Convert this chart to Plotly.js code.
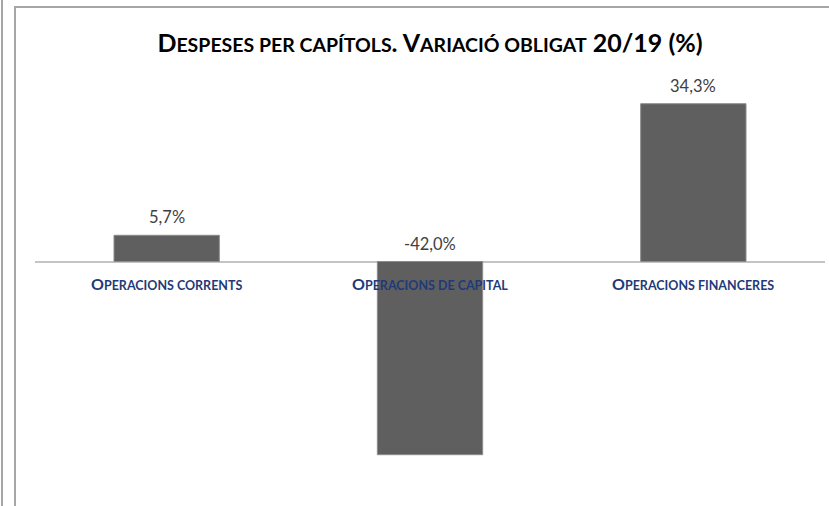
<!DOCTYPE html>
<html>
<head>
<meta charset="utf-8">
<script src="https://cdn.plot.ly/plotly-3.0.1.min.js"></script>
<style>
  html, body { margin: 0; padding: 0; background: #ffffff; }
  #wrap { position: relative; width: 829px; height: 506px; overflow: hidden; }
  #chart { position: absolute; left: 0; top: 0; width: 829px; height: 506px; }
  .frame { position: absolute; background: #a6a6a6; }
</style>
</head>
<body>
<div id="wrap">
  <div id="chart"></div>
  <div class="frame" style="left:1px; top:0; width:2px; height:506px;"></div>
  <div class="frame" style="left:14px; top:7px; width:2px; height:499px;"></div>
  <div class="frame" style="left:14px; top:6px; width:815px; height:2px;"></div>
</div>
<script>
// Data
var categoryFirst = ['O', 'O', 'O'];
var categoryRest = ['PERACIONS CORRENTS', 'PERACIONS DE CAPITAL', 'PERACIONS FINANCERES'];
var categories = ['Operacions corrents', 'Operacions de capital', 'Operacions financeres'];
var values = [5.7, -42.0, 34.3];

function fmt(v) { return v.toFixed(1).replace('.', ',') + '%'; }

var trace = {
  type: 'bar',
  x: categories,
  y: values,
  marker: { color: '#5f5f5f', line: { color: '#8c8c8c', width: 1 } },
  hoverinfo: 'none'
};

var annotations = [];
for (var i = 0; i < categories.length; i++) {
  annotations.push({
    x: categories[i], y: Math.max(values[i], 0), xref: 'x', yref: 'y',
    text: fmt(values[i]), showarrow: false, yanchor: 'bottom', yshift: 6,
    font: { family: 'Lato, "Open Sans", sans-serif', size: 16.5, color: '#404040' }
  });
  annotations.push({
    x: categories[i], y: 0, xref: 'x', yref: 'y',
    text: '<b>' + categoryFirst[i] + '<span style="font-size:12.5px">' + categoryRest[i] + '</span></b>',
    showarrow: false, yanchor: 'middle', yshift: -22,
    font: { family: 'Lato, "Open Sans", sans-serif', size: 16, color: '#1f3a78' }
  });
}

var layout = {
  width: 829, height: 506,
  margin: { l: 35, r: 4, t: 80, b: 6 },
  paper_bgcolor: 'rgba(0,0,0,0)',
  plot_bgcolor: 'rgba(0,0,0,0)',
  bargap: 0.6,
  showlegend: false,
  title: {
    text: '<b>D<span style="font-size:19.5px">ESPESES PER CAPÍTOLS</span>. V<span style="font-size:19.5px">ARIACIÓ OBLIGAT</span> 20/19 (%)</b>',
    x: 0.5, xref: 'paper', xanchor: 'center',
    y: 1 - 43 / 506, yref: 'container', yanchor: 'middle',
    font: { family: 'Lato, "Open Sans", sans-serif', size: 25, color: '#000000' }
  },
  xaxis: {
    showticklabels: false, showgrid: false, zeroline: false, showline: false, ticks: ''
  },
  yaxis: {
    range: [-51.85, 39.46],
    showticklabels: false, showgrid: false, ticks: '',
    zeroline: true, zerolinecolor: '#c4c4c4', zerolinewidth: 2
  },
  annotations: annotations
};

Plotly.newPlot('chart', [trace], layout, { displayModeBar: false, staticPlot: true });
</script>
</body>
</html>
